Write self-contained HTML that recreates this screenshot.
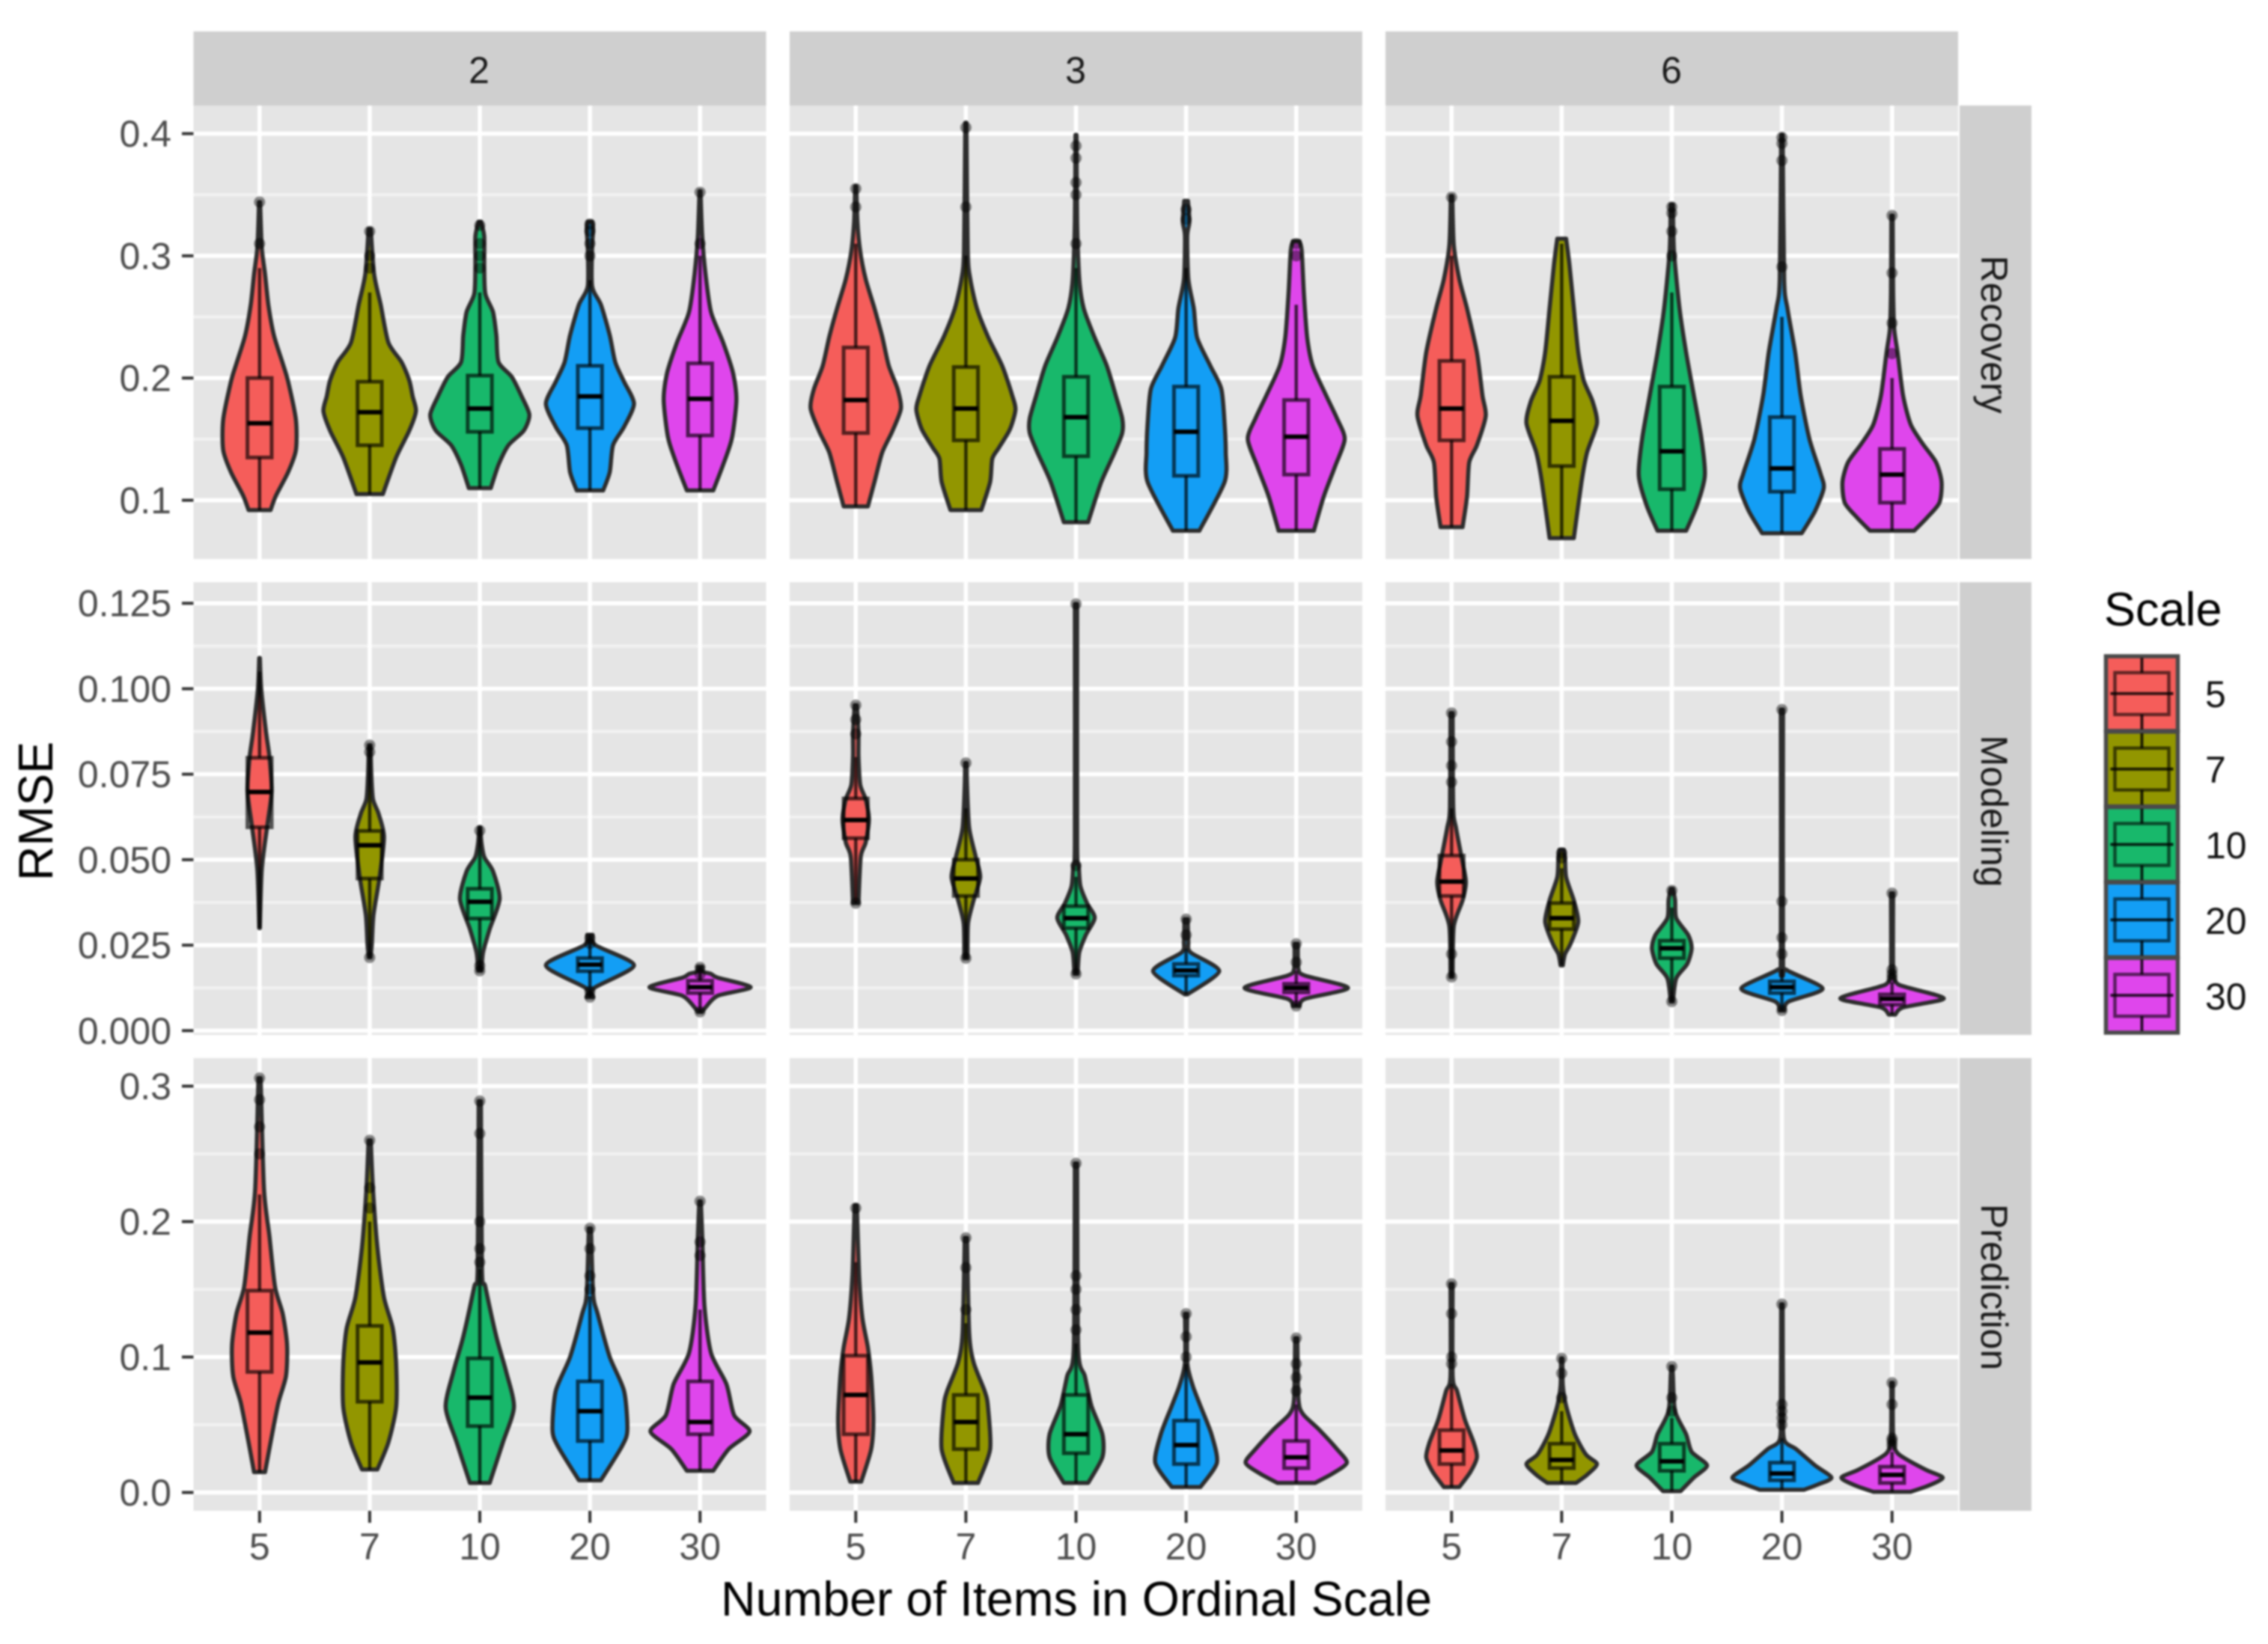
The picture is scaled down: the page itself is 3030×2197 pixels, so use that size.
<!DOCTYPE html>
<html lang="en">
<head>
<meta charset="utf-8">
<title>RMSE violin plots by number of items in ordinal scale</title>
<style>
html,body{margin:0;padding:0;background:#fff;}
svg{display:block;filter:blur(1.3px);font-family:"Liberation Sans",sans-serif;}
</style>
</head>
<body>
<svg id="chart" xmlns="http://www.w3.org/2000/svg" width="3030" height="2197" viewBox="0 0 3030 2197">
  <rect x="0" y="0" width="3030" height="2197" fill="#ffffff"/>
  <g id="panels"></g>
  <g>
    <rect x="258.5" y="42" width="765" height="99" fill="#cfcfcf"/>
    <text x="640" y="111" font-size="50" text-anchor="middle" fill="#1a1a1a">2</text>
    <rect x="1055" y="42" width="765" height="99" fill="#cfcfcf"/>
    <text x="1437" y="111" font-size="50" text-anchor="middle" fill="#1a1a1a">3</text>
    <rect x="1851" y="42" width="765" height="99" fill="#cfcfcf"/>
    <text x="2233" y="111" font-size="50" text-anchor="middle" fill="#1a1a1a">6</text>
  </g>
  <g>
    <rect x="2618" y="141" width="96" height="606" fill="#cfcfcf"/>
    <text transform="translate(2647,447) rotate(90)" font-size="50" text-anchor="middle" fill="#1a1a1a">Recovery</text>
    <rect x="2618" y="778" width="96" height="605" fill="#cfcfcf"/>
    <text transform="translate(2647,1084) rotate(90)" font-size="50" text-anchor="middle" fill="#1a1a1a">Modeling</text>
    <rect x="2618" y="1414" width="96" height="605" fill="#cfcfcf"/>
    <text transform="translate(2647,1720) rotate(90)" font-size="50" text-anchor="middle" fill="#1a1a1a">Prediction</text>
  </g>
  <text transform="translate(70,1084) rotate(-90)" font-size="64.5" text-anchor="middle" fill="#000">RMSE</text>
  <text x="1438" y="2159" font-size="64.5" text-anchor="middle" fill="#000">Number of Items in Ordinal Scale</text>
  <g id="legend">
    <text x="2811" y="836" font-size="63" fill="#000">Scale</text>
  </g>
</svg>
<script>
// ---------- categories, facets, ticks ----------
const categories = ['5', '7', '10', '20', '30'];
const itemFacets = ['2', '3', '6'];
const outcomeFacets = ['Recovery', 'Modeling', 'Prediction'];
const fillColors = ['#f55d5a', '#929600', '#18b86b', '#139ef5', '#df46ec'];

const recoveryTicks = [0.1, 0.2, 0.3, 0.4];
const recoveryTickLabels = ['0.1', '0.2', '0.3', '0.4'];
const recoveryMinorTicks = [0.15, 0.25, 0.35];
const modelingTicks = [0, 0.025, 0.05, 0.075, 0.1, 0.125];
const modelingTickLabels = ['0.000', '0.025', '0.050', '0.075', '0.100', '0.125'];
const modelingMinorTicks = [0.0125, 0.0375, 0.0625, 0.0875, 0.1125];
const predictionTicks = [0, 0.1, 0.2, 0.3];
const predictionTickLabels = ['0.0', '0.1', '0.2', '0.3'];
const predictionMinorTicks = [0.05, 0.15, 0.25];

// ---------- violin outlines: [RMSE value, density] knots, one list per category ----------
const recovery2Violins = [
  [[.092,10],[.104,15],[.123,26],[.141,33],[.166,33],[.197,26],[.212,21],[.235,13],[.26,8],[.285,5],[.307,2],[.344,.5]],
  [[.105,12],[.135,24],[.157,36],[.173,42],[.185,39],[.198,36],[.213,29],[.229,17],[.26,10],[.285,4],[.322,1]],
  [[.11,10],[.129,17],[.145,26],[.157,40],[.17,45],[.185,38],[.201,29],[.213,17],[.235,15],[.254,12],[.269,5],[.291,4],[.316,4],[.328,1]],
  [[.108,12],[.123,18],[.145,21],[.16,31],[.179,40],[.197,31],[.213,23],[.235,18],[.26,10],[.275,2],[.307,2],[.322,3],[.328,2]],
  [[.108,12],[.129,21],[.151,29],[.182,33],[.204,30],[.229,21],[.254,10],[.285,5],[.316,2],[.353,.5]]
];
const recovery2Boxes = [
  [.092,.135,.163,.2,.29],
  [.105,.145,.172,.197,.27],
  [.11,.156,.175,.202,.27],
  [.108,.159,.185,.21,.28],
  [.108,.153,.183,.212,.3]
];
const recovery2Outliers = [[.31,.344],[.29,.3,.32],[.29,.3,.31,.325],[.3,.31,.32,.326],[.31,.352]];

const recovery3Violins = [
  [[.095,11],[.115,17],[.139,24],[.156,33],[.175,41],[.191,38],[.21,30],[.234,24],[.257,17],[.281,9],[.304,4],[.328,1.5],[.357,.5]],
  [[.092,14],[.115,22],[.134,24],[.143,30],[.158,40],[.174,45],[.186,42],[.21,33],[.234,20],[.257,10],[.281,4],[.304,1.7],[.409,.5]],
  [[.082,11],[.115,23],[.139,35],[.155,42],[.167,42],[.186,36],[.21,28],[.233,17],[.257,7],[.281,3],[.328,1],[.399,.5]],
  [[.075,12],[.115,35],[.139,36],[.162,35],[.191,32],[.21,22],[.233,10],[.257,7],[.281,2],[.316,1],[.328,3],[.345,1.7]],
  [[.075,16],[.103,25],[.127,35],[.15,44],[.167,37],[.186,27],[.21,15],[.233,10],[.269,7],[.304,5],[.312,3]]
];
const recovery3Boxes = [
  [.095,.155,.182,.225,.31],
  [.092,.149,.175,.209,.3],
  [.082,.136,.168,.201,.29],
  [.075,.12,.156,.193,.29],
  [.075,.121,.152,.182,.26]
];
const recovery3Outliers = [[.34,.355],[.34,.405],[.31,.35,.36,.38,.39],[.33,.338],[.3,.31]];

const recovery6Violins = [
  [[.078,10],[.103,14],[.131,16],[.145,23],[.169,31],[.186,28],[.221,23],[.257,14],[.281,7],[.309,2],[.349,.7]],
  [[.069,11],[.115,18],[.139,23],[.163,32],[.181,28],[.198,20],[.221,15],[.257,11],[.293,7],[.314,4]],
  [[.075,13],[.096,23],[.12,30],[.15,27],[.186,20],[.221,13],[.257,7],[.304,2],[.342,1]],
  [[.073,18],[.091,30],[.11,38],[.122,35],[.15,25],[.186,17],[.221,12],[.257,5],[.281,2],[.399,.7]],
  [[.075,20],[.086,32],[.098,43],[.115,45],[.131,40],[.146,28],[.162,17],[.186,10],[.221,5],[.24,2],[.27,1],[.333,.6]]
];
const recovery6Boxes = [
  [.078,.149,.175,.214,.3],
  [.069,.128,.165,.201,.31],
  [.075,.109,.14,.193,.27],
  [.073,.107,.126,.168,.25],
  [.075,.098,.121,.142,.2]
];
const recovery6Outliers = [[.348],[],[.3,.32,.335,.34],[.291,.378,.392,.397],[.22,.245,.286,.333]];

const modeling2Violins = [
  [[.03,.3],[.047,2],[.06,7],[.07,11],[.08,9],[.087,6],[.1,1.5],[.109,.3]],
  [[.0214,.8],[.0254,2],[.0339,3.5],[.0449,9],[.0567,13],[.0635,8],[.0677,3],[.075,1.5],[.0835,.8]],
  [[.0175,1.5],[.0229,3],[.0297,9],[.0385,18],[.0466,12],[.0508,4],[.055,1.5],[.0595,.5]],
  [[.0098,3],[.0125,4],[.0191,40],[.025,5],[.028,2.5]],
  [[.0055,2],[.0068,5],[.0102,16],[.0127,46],[.0155,16],[.0166,10],[.0172,3],[.0187,2]]
];
const modeling2Boxes = [
  [.03,.0595,.0698,.0798,.105],
  [.0214,.0445,.0542,.0584,.0835],
  [.0175,.0328,.0377,.0415,.0595],
  [.0098,.0174,.0193,.0212,.028],
  [.0055,.011,.0127,.0146,.0187]
];
const modeling2Outliers = [[],[.0214,.0815,.0835],[.0175,.019,.0585],[.0098,.0115,.0255,.027],[.0055,.0165,.0185]];

const modeling3Violins = [
  [[.0373,2.5],[.0508,4.5],[.055,9],[.0618,12],[.0677,9],[.072,4],[.0804,2.5],[.087,2.5],[.0952,1]],
  [[.0212,1.5],[.0313,2],[.0381,7],[.0449,13],[.0508,9],[.0593,3],[.072,1],[.0783,.7]],
  [[.0166,1.5],[.0229,3],[.028,9],[.033,17],[.0373,10],[.0423,4],[.0483,2.5],[.055,1],[.1248,1]],
  [[.0106,1],[.0174,30],[.0229,4],[.026,2],[.0326,1.5]],
  [[.0072,3],[.0093,8],[.0125,47],[.0161,8],[.018,2],[.0254,1.5]]
];
const modeling3Boxes = [
  [.0373,.0563,.0616,.0679,.08],
  [.0212,.0394,.0445,.05,.065],
  [.0166,.03,.0329,.0364,.045],
  [.0106,.0161,.0176,.0195,.024],
  [.0072,.0112,.0125,.0137,.0175]
];
const modeling3Outliers = [[.0373,.0868,.091,.0952],[.0212,.0783],[.0166,.0483,.1248],[.0326,.028],[.0072,.0254,.02]];

const modeling6Violins = [
  [[.0157,1],[.0305,2],[.0381,10],[.0436,13],[.0508,9],[.0593,4],[.0652,1.5],[.0929,1]],
  [[.0191,1],[.0224,3],[.0254,8],[.0318,15],[.0381,11],[.0449,4],[.0508,3],[.0529,2]],
  [[.0085,1],[.0153,4],[.0195,14],[.0241,18],[.0279,15],[.0329,4],[.0381,3],[.0415,1]],
  [[.0059,2],[.0085,6],[.0123,37],[.0178,4],[.021,1],[.0939,1]],
  [[.0047,3],[.0068,10],[.0094,47],[.0127,13],[.014,4],[.018,1],[.0402,1]]
];
const modeling6Boxes = [
  [.0157,.0394,.0436,.0512,.065],
  [.0191,.0297,.0329,.0373,.0475],
  [.0085,.0212,.0241,.0263,.036],
  [.0059,.011,.0127,.0144,.018],
  [.0047,.0076,.0093,.0106,.014]
];
const modeling6Outliers = [[.0157,.0224,.0727,.0775,.0845,.0929],[.0505,.052],[.0085,.041],[.0059,.0224,.0272,.0378,.0939],[.0153,.0165,.0178,.0402]];

const prediction2Violins = [
  [[.015,5],[.037,10],[.066,17],[.086,24],[.109,25],[.132,21],[.152,14],[.189,9],[.224,4],[.306,1]],
  [[.017,7],[.037,17],[.063,24],[.095,24],[.121,21],[.144,13],[.181,7],[.224,3],[.26,1]],
  [[.007,9],[.037,21],[.063,31],[.089,24],[.115,15],[.152,5],[.164,2],[.289,1]],
  [[.009,10],[.034,29],[.046,34],[.075,31],[.1,18],[.132,7],[.146,3],[.195,1]],
  [[.016,12],[.032,26],[.045,45],[.057,31],[.08,24],[.103,10],[.138,4],[.189,2],[.215,.7]]
];
const prediction2Boxes = [
  [.015,.089,.118,.149,.22],
  [.017,.067,.096,.123,.2],
  [.007,.049,.07,.099,.165],
  [.009,.038,.06,.082,.145],
  [.016,.043,.052,.082,.135]
];
const prediction2Outliers = [[.25,.27,.29,.306],[.21,.225,.26],[.17,.18,.2,.265,.289],[.15,.16,.18,.195],[.175,.185,.215]];

const prediction3Violins = [
  [[.008,5],[.032,14],[.054,16],[.086,14],[.107,11],[.129,6],[.161,3],[.212,1]],
  [[.007,11],[.032,22],[.064,20],[.075,17],[.096,7],[.118,3],[.188,1]],
  [[.007,11],[.026,24],[.043,24],[.064,14],[.086,8],[.107,2],[.243,1]],
  [[.004,13],[.022,28],[.043,23],[.064,13],[.079,6],[.096,1],[.132,1]],
  [[.007,17],[.014,33],[.022,46],[.032,37],[.047,20],[.058,6],[.069,2],[.114,1]]
];
const prediction3Boxes = [
  [.008,.043,.072,.101,.17],
  [.007,.032,.052,.072,.125],
  [.007,.029,.043,.072,.11],
  [.004,.021,.035,.053,.095],
  [.007,.018,.026,.038,.065]
];
const prediction3Outliers = [[.21],[.135,.166,.188],[.12,.135,.15,.16,.243],[.1,.115,.132],[.075,.085,.095,.114]];

const prediction6Violins = [
  [[.004,7],[.015,17],[.026,23],[.037,20],[.054,12],[.075,5],[.086,1],[.154,1]],
  [[.007,13],[.013,23],[.021,32],[.028,22],[.043,12],[.064,4],[.079,1],[.099,.7]],
  [[.001,8],[.011,20],[.02,32],[.03,18],[.043,13],[.06,3],[.086,1],[.093,.7]],
  [[.002,20],[.006,33],[.011,45],[.02,30],[.032,13],[.039,2],[.065,1],[.139,.7]],
  [[.0005,17],[.005,33],[.011,46],[.017,30],[.029,5],[.043,1],[.081,.7]]
];
const prediction6Boxes = [
  [.004,.021,.031,.046,.08],
  [.007,.018,.024,.036,.06],
  [.001,.016,.023,.036,.055],
  [.002,.009,.014,.022,.04],
  [.0005,.007,.013,.019,.03]
];
const prediction6Outliers = [[.095,.1,.132,.154],[.07,.088,.099],[.06,.07,.093],[.05,.055,.06,.065,.139],[.035,.038,.04,.065,.081]];

// ---------- layout and axis functions ----------
const SVG_NS = 'http://www.w3.org/2000/svg';
const panelLeft = [258.5, 1055, 1851];
const panelWidth = 765;
const panelTop = [141, 778, 1414];
const panelHeight = [606, 605, 605];
const yAnchors = [
  {value: 0.4, pixel: 178.6, perUnit: 1633},
  {value: 0.125, pixel: 806.2, perUnit: 4569},
  {value: 0.3, pixel: 1451.5, perUnit: 1810}
];
const step = panelWidth / 5.2;

function xScale(col, i) { return panelLeft[col] + (i + 0.6) * step; }
function yScale(row, value) {
  const a = yAnchors[row];
  return a.pixel + (a.value - value) * a.perUnit;
}
function widthScale(density) { return density / 100 * step; }
function make(parent, tag, attrs, text) {
  const el = document.createElementNS(SVG_NS, tag);
  for (const k in attrs) el.setAttribute(k, attrs[k]);
  if (text !== undefined) el.textContent = text;
  parent.appendChild(el);
  return el;
}
function kebab(s) { return String(s).toLowerCase(); }

// smooth one violin side through its knots (Catmull-Rom converted to cubic segments)
function smoothSide(points) {
  let d = '';
  for (let i = 0; i < points.length - 1; i++) {
    const p0 = points[Math.max(i - 1, 0)];
    const p1 = points[i];
    const p2 = points[i + 1];
    const p3 = points[Math.min(i + 2, points.length - 1)];
    const c1x = p1[0] + (p2[0] - p0[0]) / 8;
    const c1y = p1[1] + (p2[1] - p0[1]) / 8;
    const c2x = p2[0] - (p3[0] - p1[0]) / 8;
    const c2y = p2[1] - (p3[1] - p1[1]) / 8;
    d += 'C' + c1x.toFixed(1) + ' ' + c1y.toFixed(1) + ' ' + c2x.toFixed(1) + ' ' + c2y.toFixed(1) + ' ' + p2[0].toFixed(1) + ' ' + p2[1].toFixed(1);
  }
  return d;
}
function violinPath(row, cx, knots) {
  const left = knots.map(function (k) { return [cx - widthScale(k[1]), yScale(row, k[0])]; });
  const right = knots.slice().reverse().map(function (k) { return [cx + widthScale(k[1]), yScale(row, k[0])]; });
  return 'M' + left[0][0].toFixed(1) + ' ' + left[0][1].toFixed(1) + smoothSide(left) +
    'L' + right[0][0].toFixed(1) + ' ' + right[0][1].toFixed(1) + smoothSide(right) + 'Z';
}

const violinsGrid = [
  [recovery2Violins, recovery3Violins, recovery6Violins],
  [modeling2Violins, modeling3Violins, modeling6Violins],
  [prediction2Violins, prediction3Violins, prediction6Violins]
];
const boxesGrid = [
  [recovery2Boxes, recovery3Boxes, recovery6Boxes],
  [modeling2Boxes, modeling3Boxes, modeling6Boxes],
  [prediction2Boxes, prediction3Boxes, prediction6Boxes]
];
const outliersGrid = [
  [recovery2Outliers, recovery3Outliers, recovery6Outliers],
  [modeling2Outliers, modeling3Outliers, modeling6Outliers],
  [prediction2Outliers, prediction3Outliers, prediction6Outliers]
];
const majorTicks = [recoveryTicks, modelingTicks, predictionTicks];
const majorLabels = [recoveryTickLabels, modelingTickLabels, predictionTickLabels];
const minorTicks = [recoveryMinorTicks, modelingMinorTicks, predictionMinorTicks];

const panelsRoot = document.getElementById('panels');

function drawPanel(row, col) {
  const left = panelLeft[col], top = panelTop[row], h = panelHeight[row];
  const prefix = kebab(outcomeFacets[row]) + '-' + itemFacets[col];
  const g = make(panelsRoot, 'g', {});
  
  

  const bg = make(g, 'rect', {x: left, y: top, width: panelWidth, height: h, fill: '#e5e5e5'});
  
  

  minorTicks[row].forEach(function (v) {
    const line = make(g, 'line', {x1: left, x2: left + panelWidth, y1: yScale(row, v), y2: yScale(row, v), stroke: '#f2f2f2', 'stroke-width': 4});
    
    
  });
  majorTicks[row].forEach(function (v) {
    const line = make(g, 'line', {x1: left, x2: left + panelWidth, y1: yScale(row, v), y2: yScale(row, v), stroke: '#ffffff', 'stroke-width': 5.5});
    
    
  });
  categories.forEach(function (c, i) {
    const line = make(g, 'line', {x1: xScale(col, i), x2: xScale(col, i), y1: top, y2: top + h, stroke: '#ffffff', 'stroke-width': 5.5});
    
    
  });

  categories.forEach(function (c, i) {
    const cx = xScale(col, i);
    const knots = violinsGrid[row][col][i];
    const box = boxesGrid[row][col][i];
    const outliers = outliersGrid[row][col][i];

    const group = make(g, 'g', {});
    
    

    const violin = make(group, 'path', {d: violinPath(row, cx, knots), fill: fillColors[i], stroke: '#2d2d2d', 'stroke-width': 5.5, 'stroke-linejoin': 'round'});
    
    

    const lo = box[0], q1 = box[1], med = box[2], q3 = box[3], hi = box[4];
    const whiskerLow = make(group, 'line', {x1: cx, x2: cx, y1: yScale(row, q1), y2: yScale(row, lo), stroke: '#000', 'stroke-opacity': 0.7, 'stroke-width': 4.5});
    
    
    const whiskerHigh = make(group, 'line', {x1: cx, x2: cx, y1: yScale(row, q3), y2: yScale(row, hi), stroke: '#000', 'stroke-opacity': 0.7, 'stroke-width': 4.5});
    
    

    const boxHalf = step * 0.11;
    const rect = make(group, 'rect', {x: cx - boxHalf, y: yScale(row, q3), width: boxHalf * 2, height: yScale(row, q1) - yScale(row, q3), fill: 'none', stroke: '#000', 'stroke-opacity': 0.65, 'stroke-width': 5});
    
    
    const median = make(group, 'line', {x1: cx - boxHalf, x2: cx + boxHalf, y1: yScale(row, med), y2: yScale(row, med), stroke: '#000', 'stroke-width': 6});
    
    

    outliers.forEach(function (v) {
      const dot = make(group, 'circle', {cx: cx, cy: yScale(row, v), r: 7.5, fill: '#000', 'fill-opacity': 0.45});
      
      
    });
  });
}

for (let r = 0; r < 3; r++) {
  for (let c = 0; c < 3; c++) drawPanel(r, c);
}

// y-axis ticks and labels
majorTicks.forEach(function (ticks, row) {
  ticks.forEach(function (v, i) {
    const tick = make(panelsRoot, 'line', {x1: 243, x2: 258.5, y1: yScale(row, v), y2: yScale(row, v), stroke: '#333', 'stroke-width': 4});
    
    
    const label = make(panelsRoot, 'text', {x: 229, y: yScale(row, v) + 17.5, 'font-size': 50, 'text-anchor': 'end', fill: '#4d4d4d'}, majorLabels[row][i]);
    
    
  });
});

// x-axis ticks and labels
itemFacets.forEach(function (f, col) {
  categories.forEach(function (c, i) {
    const tick = make(panelsRoot, 'line', {x1: xScale(col, i), x2: xScale(col, i), y1: 2019, y2: 2035, stroke: '#333', 'stroke-width': 4});
    
    
    const label = make(panelsRoot, 'text', {x: xScale(col, i), y: 2084, 'font-size': 50, 'text-anchor': 'middle', fill: '#4d4d4d'}, c);
    
    
  });
});

// legend
const legendRoot = document.getElementById('legend');
categories.forEach(function (c, i) {
  const keyH = 100.8, x = 2813.5, w = 96, y = 877 + i * keyH, h = keyH - 1;
  const key = make(legendRoot, 'g', {});
  
  

  const bg = make(key, 'rect', {x: x, y: y, width: w, height: h, fill: fillColors[i], stroke: '#4a4a4a', 'stroke-width': 5.5});
  
  
  const boxRect = make(key, 'rect', {x: x + 12, y: y + h * 0.22, width: w - 24, height: h * 0.56, fill: 'none', stroke: '#000', 'stroke-opacity': 0.6, 'stroke-width': 4.5});
  
  
  const mid = make(key, 'line', {x1: x + 6, x2: x + w - 6, y1: y + h * 0.5, y2: y + h * 0.5, stroke: '#000', 'stroke-opacity': 0.8, 'stroke-width': 4});
  
  
  const wTop = make(key, 'line', {x1: x + w / 2, x2: x + w / 2, y1: y + 2, y2: y + h * 0.22, stroke: '#000', 'stroke-opacity': 0.8, 'stroke-width': 4});
  
  
  const wBot = make(key, 'line', {x1: x + w / 2, x2: x + w / 2, y1: y + h * 0.78, y2: y + h - 2, stroke: '#000', 'stroke-opacity': 0.8, 'stroke-width': 4});
  
  

  const label = make(legendRoot, 'text', {x: 2946, y: 945 + i * 101, 'font-size': 50, fill: '#111'}, c);
  
  
});
</script>
</body>
</html>
